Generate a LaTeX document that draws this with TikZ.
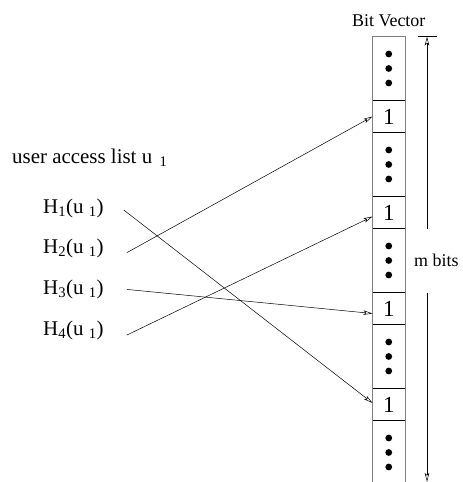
\documentclass[tikz,border=0pt]{standalone}
\usepackage{fontspec}
\setmainfont{Liberation Serif}
\usetikzlibrary{positioning, arrows.meta, calc}

\begin{document}
\begin{tikzpicture}[
    x=1bp, y=-1bp,
    >={Stealth[open, length=9bp, width=4.5bp, inset=2bp]},
    node distance=0pt,
    bitcell/.style={
        inner sep=0pt,
        outer sep=0pt,
        minimum width=32.5bp,
        minimum height=64bp
    },
    onecell/.style={
        bitcell,
        minimum height=32bp,
        font=\fontsize{23}{26}\selectfont
    },
    leftlabel/.style={
        font=\fontsize{21}{24}\selectfont,
        inner sep=0pt
    },
    rightlabel/.style={
        font=\fontsize{18}{21}\selectfont,
        inner sep=0pt
    },
    railline/.style={draw=black!50, line width=0.6bp},
    divider/.style={draw=black, line width=0.6bp},
    hasharrow/.style={->, line width=0.5bp},
    dimarrow/.style={->, line width=0.5bp}
]
\useasboundingbox (0,0) rectangle (463,482);
% ============================================================
% BIT VECTOR -- cells stacked top to bottom
% ============================================================
\node[bitcell] (dots1) at (388.75,68.5) {};
\node[onecell, below=of dots1] (one1) {1};
\node[bitcell, below=of one1] (dots2) {};
\node[onecell, below=of dots2] (one2) {1};
\node[bitcell, below=of one2] (dots3) {};
\node[onecell, below=of dots3] (one3) {1};
\node[bitcell, below=of one3] (dots4) {};
\node[onecell, below=of dots4] (one4) {1};
% last cell runs off the bottom edge
\node[bitcell, below=of one4, minimum height=61.5bp] (dots5) {};
% outer rails and top edge
\draw[railline] (dots5.south west) -- (dots1.north west)
    -- (dots1.north east) -- (dots5.south east);
% dividers round the set bits
\foreach \c in {one1,one2,one3,one4}
    \draw[divider] (\c.north west) -- (\c.north east)
                   (\c.south west) -- (\c.south east);
% three dots in every gap cell
\foreach \c in {dots1,dots2,dots3,dots4,dots5}
    \foreach \dy in {-14.5,0,14.5}
        \fill ($(\c.north)+(0,32+\dy)$) circle (3.4bp);
\node[rightlabel, above=10bp of dots1] (bvlabel) {Bit Vector};
% ============================================================
% LENGTH MARKER -- m bits
% ============================================================
\coordinate (mtop) at ($(dots1.north east)+(22,0)$);
\coordinate (mbot) at (mtop |- dots5.south);
\draw[line width=0.5bp] ($(mtop)+(-9,0)$) -- ($(mtop)+(10,0)$);
\draw[dimarrow] (dots3.north -| mtop) -- (mtop);
\draw[dimarrow] (dots3.south -| mtop) -- (mbot);
\node[rightlabel, anchor=west] (mbits) at ($(dots3.east)+(9,0)$) {m bits};
% ============================================================
% HASH FUNCTIONS OF u1
% ============================================================
\node[leftlabel, anchor=west] (ulist) at (12,158)
    {user access list u\hspace{0.35em}\textsubscript{1}};
\node[leftlabel, anchor=west] (h1) at (43,208)
    {H\textsubscript{1}(u \textsubscript{1})};
\node[leftlabel, on grid, below=40.7bp of h1] (h2)
    {H\textsubscript{2}(u \textsubscript{1})};
\node[leftlabel, on grid, below=40.7bp of h2] (h3)
    {H\textsubscript{3}(u \textsubscript{1})};
\node[leftlabel, on grid, below=40.7bp of h3] (h4)
    {H\textsubscript{4}(u \textsubscript{1})};
% ============================================================
% HASH ARROWS -- each function sets one bit
% ============================================================
\draw[hasharrow] ($(h1.east)+(20,2)$) -- ($(one4.west)+(0,-1.5)$);
\draw[hasharrow] ($(h2.east)+(23,4)$) -- (one1.west);
\draw[hasharrow] ($(h3.east)+(23,0)$) -- ($(one3.west)+(0,5)$);
\draw[hasharrow] ($(h4.east)+(23,5)$) -- ($(one2.west)+(0,4)$);
\end{tikzpicture}
\end{document}
